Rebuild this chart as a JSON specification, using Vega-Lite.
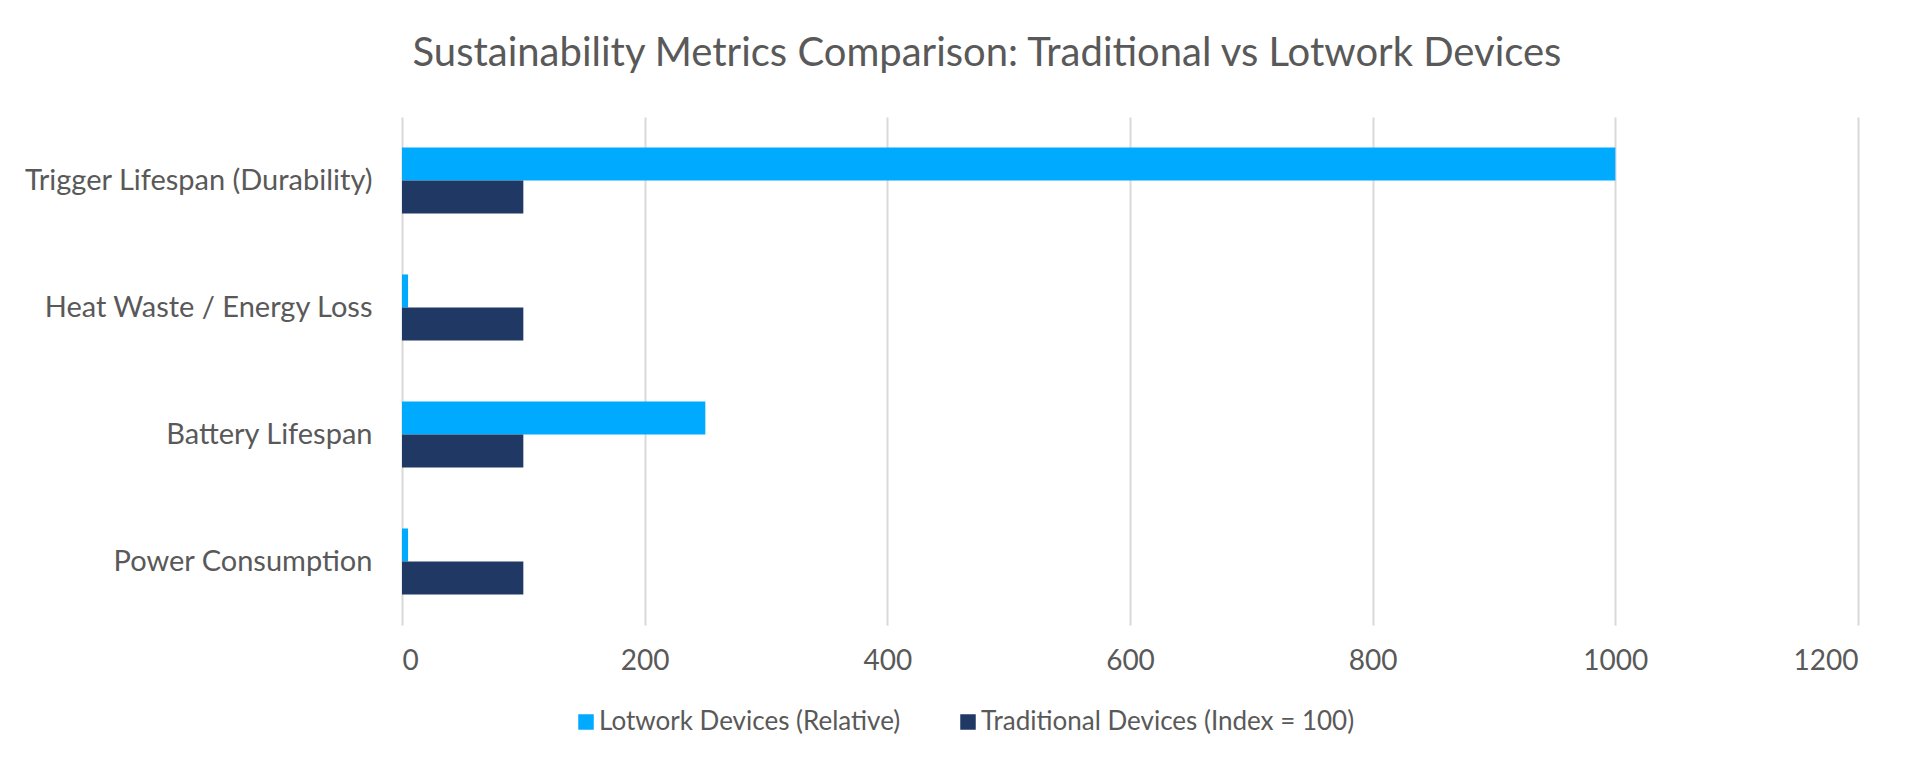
{
  "$schema": "https://vega.github.io/schema/vega-lite/v6.json",
  "autosize": {"type": "none"},
  "width": 1456,
  "height": 508,
  "padding": {"left": 402, "top": 117, "right": 62, "bottom": 144},
  "background": "white",
  "title": {
    "text": "Sustainability Metrics Comparison: Traditional vs Lotwork Devices",
    "anchor": "middle",
    "frame": "group",
    "dx": -143,
    "offset": 11,
    "baseline": "alphabetic",
    "font": "Lato",
    "fontSize": 40,
    "fontWeight": "normal",
    "color": "#595959"
  },
  "data": {
    "values": [
      {"Metric": "Trigger Lifespan (Durability)", "Series": "Lotwork Devices (Relative)", "Value": 1000},
      {"Metric": "Trigger Lifespan (Durability)", "Series": "Traditional Devices (Index = 100)", "Value": 100},
      {"Metric": "Heat Waste / Energy Loss", "Series": "Lotwork Devices (Relative)", "Value": 5},
      {"Metric": "Heat Waste / Energy Loss", "Series": "Traditional Devices (Index = 100)", "Value": 100},
      {"Metric": "Battery Lifespan", "Series": "Lotwork Devices (Relative)", "Value": 250},
      {"Metric": "Battery Lifespan", "Series": "Traditional Devices (Index = 100)", "Value": 100},
      {"Metric": "Power Consumption", "Series": "Lotwork Devices (Relative)", "Value": 5},
      {"Metric": "Power Consumption", "Series": "Traditional Devices (Index = 100)", "Value": 100}
    ]
  },
  "mark": {"type": "bar"},
  "encoding": {
    "y": {
      "field": "Metric",
      "type": "nominal",
      "sort": ["Trigger Lifespan (Durability)", "Heat Waste / Energy Loss", "Battery Lifespan", "Power Consumption"],
      "scale": {"paddingInner": 0.48, "paddingOuter": 0.24},
      "axis": {
        "title": null,
        "ticks": false,
        "domain": false,
        "labelPadding": 30,
        "labelFont": "Lato",
        "labelFontSize": 29,
        "labelColor": "#595959",
        "labelLimit": 450
      }
    },
    "yOffset": {
      "field": "Series",
      "type": "nominal",
      "sort": ["Lotwork Devices (Relative)", "Traditional Devices (Index = 100)"]
    },
    "x": {
      "field": "Value",
      "type": "quantitative",
      "scale": {"domain": [0, 1200]},
      "axis": {
        "title": null,
        "values": [0, 200, 400, 600, 800, 1000, 1200],
        "format": "d",
        "grid": true,
        "gridColor": "#d9d9d9",
        "gridWidth": 2,
        "domain": false,
        "ticks": false,
        "labelPadding": 22,
        "labelFont": "Lato",
        "labelFontSize": 28,
        "labelColor": "#595959"
      }
    },
    "color": {
      "field": "Series",
      "type": "nominal",
      "scale": {
        "domain": ["Lotwork Devices (Relative)", "Traditional Devices (Index = 100)"],
        "range": ["#00AAFF", "#1F3864"]
      },
      "legend": {
        "title": null,
        "orient": "none",
        "direction": "horizontal",
        "legendX": 171,
        "legendY": 592,
        "symbolType": "square",
        "symbolSize": 240,
        "symbolStrokeWidth": 0,
        "labelOffset": 0,
        "columnPadding": 54,
        "labelFont": "Lato",
        "labelFontSize": 26,
        "labelColor": "#595959",
        "labelLimit": 500
      }
    }
  },
  "config": {
    "view": {"stroke": null},
    "font": "Lato"
  }
}
